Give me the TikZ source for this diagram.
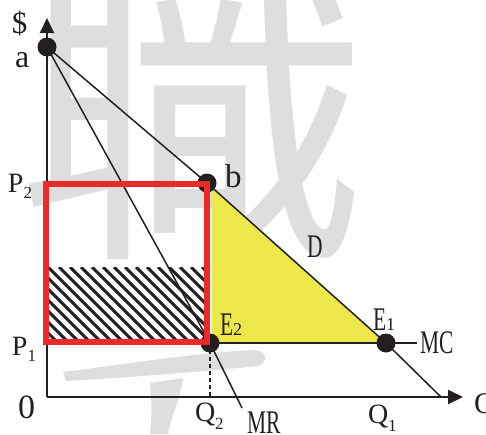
\documentclass[tikz,border=0pt]{standalone}
\usepackage{fontspec}
\setmainfont{Liberation Serif}
\newfontfamily\cjk{Noto Sans CJK TC}
\usetikzlibrary{arrows.meta}
\definecolor{wm}{RGB}{222,222,222}
\definecolor{redbox}{RGB}{237,42,42}
\definecolor{yel}{RGB}{236,232,74}
\definecolor{ink}{RGB}{35,31,32}
\newcommand\cond[1]{\scalebox{0.65}[1]{#1}}
\newcommand\fs[1]{\fontsize{#1}{#1}\selectfont}
\newcommand\subdig[2]{\raisebox{-#1pt}{\fs{17}#2}}
\begin{document}
\begin{tikzpicture}[x=1pt,y=-1pt,
  lbl/.style={inner sep=0pt, outer sep=0pt, anchor=base west, text=ink},
  dot/.style={circle, fill=ink, inner sep=0pt, minimum size=19pt},
  axis/.style={line width=2pt, draw=ink, -{Triangle[length=15pt,width=14pt]}},
  curve/.style={line width=1.5pt, draw=ink},
  wmark/.style={text=wm, inner sep=0pt}]
\useasboundingbox (0,0) rectangle (486,434);
% watermark
\begin{scope}
  \clip (0,0) rectangle (486,434);
  \node[wmark] (wm1) at (192,98) {\cjk\fs{350}職};
  \fill[wm] (63,372) .. controls (120,365) and (200,352) .. (255,350)
     .. controls (268,352) and (268,362) .. (258,366)
     .. controls (200,372) and (120,378) .. (66,381) -- cycle;
  \fill[wm] (150,383) -- (183,378) .. controls (180,400) and (170,420) .. (168,434)
     -- (150,434) .. controls (152,410) .. (150,383) -- cycle;
\end{scope}
% key points
\coordinate (O) at (47,397);
\coordinate (ytip) at (47,18);
\coordinate (xtip) at (463,397);
\coordinate (dend) at (441,397);
\coordinate (mrend) at (242,408);
\coordinate (mcend) at (417,343);
\coordinate (q2foot) at (210,397);
\coordinate (pa) at (47,47);
\coordinate (pb) at (207,183);
\coordinate (pe2) at (210,343);
\coordinate (pe1) at (386,343);
% yellow area
\fill[yel] (211.5,187) -- (pe1) -- (211.5,343) -- cycle;
% hatch
\begin{scope}
  \clip (48,267) rectangle (205,342);
  \foreach \x in {-40,-29,...,210}
    \draw[line width=3pt, ink] (\x,267) -- ++(76,76);
\end{scope}
% curves
\draw[curve] (pe2) -- (pe1) -- (mcend);
\draw[curve] (pa) -- (pb) -- (pe1) -- (dend);
\draw[curve] (pa) -- (pe2) -- (mrend);
\draw[ink, line width=1.2pt, dash pattern=on 4pt off 3pt] (pe2) -- (q2foot);
% axes
\draw[axis] (O) -- (ytip);
\draw[axis] (O) -- (xtip);
% dots
\node[dot] (a) at (pa) {};
\node[dot] (b) at (pb) {};
\node[dot] (E2) at (pe2) {};
\node[dot] (E1) at (pe1) {};
% red box
\draw[redbox, line width=6pt] (46,184) rectangle (207,341.5);
% labels
\node[lbl] (ldollar) at (12,33) {\fs{31}\$};
\node[lbl] (la) at (15,67) {\fs{32}a};
\node[lbl] (lp2) at (8,192) {\fs{28}P\subdig{6}{2}};
\node[lbl] (lp1) at (12,355) {\fs{28}P\subdig{6}{1}};
\node[lbl] (l0) at (18,418) {\fs{34}0};
\node[lbl] (lq2) at (195,421) {\fs{28}Q\subdig{8}{2}};
\node[lbl] (lq1) at (368,423) {\fs{28}Q\subdig{8}{1}};
\node[lbl] (lq) at (474,413) {\fs{30}Q};
\node[lbl] (lb) at (225,187) {\fs{33}b};
\node[lbl] (lD) at (307,257) {\fs{33}\cond{D}};
\node[lbl] (lE2) at (220,335) {\fs{33}\cond{E}\fs{18}2};
\node[lbl] (lE1) at (373,330) {\fs{33}\cond{E}\fs{18}1};
\node[lbl] (lMC) at (420,353) {\fs{33}\cond{MC}};
\node[lbl] (lMR) at (247,433) {\fs{33}\cond{MR}};
\end{tikzpicture}
\end{document}
